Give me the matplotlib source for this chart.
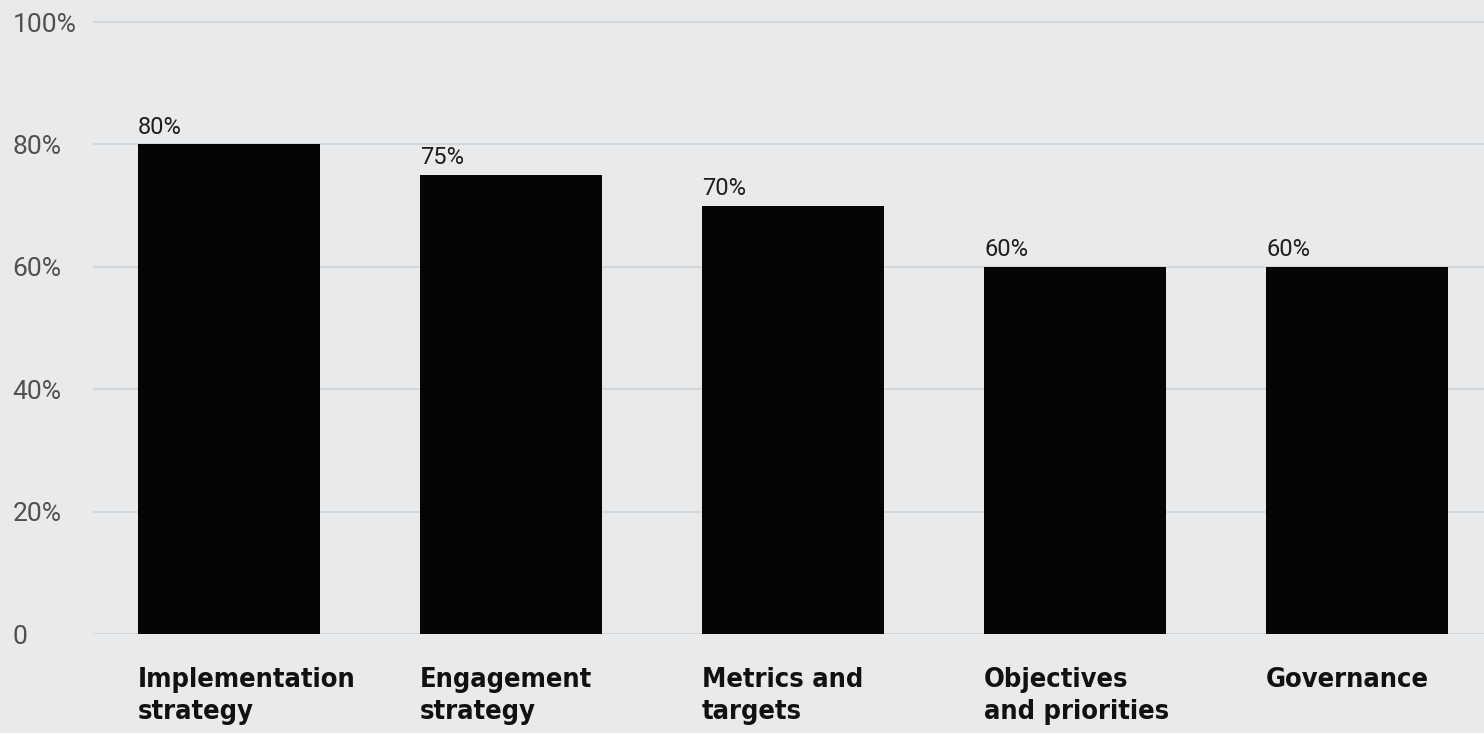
import matplotlib
matplotlib.use('Agg')
import matplotlib.pyplot as plt

categories = ['Implementation\nstrategy', 'Engagement\nstrategy', 'Metrics and\ntargets',
              'Objectives\nand priorities', 'Governance']
shares = [80, 75, 70, 60, 60]
tick_values = [0, 20, 40, 60, 80, 100]
tick_labels = ['0', '20%', '40%', '60%', '80%', '100%']

bg = '#e8eaec'

fig = plt.figure(figsize=(14.84, 7.33), dpi=100, facecolor=bg)
ax = fig.add_axes([93 / 1484, 99 / 733, 1391 / 1484, 634 / 733], facecolor=bg)

x = range(len(categories))
width = 0.645
bars = ax.bar(x, shares, width=width, color='#050505', zorder=3)

# value labels sit on top of each bar, flush with its left edge
for bar, v in zip(bars, shares):
    ax.annotate(f'{v}%', (bar.get_x(), v), xytext=(0, 4), textcoords='offset points',
                ha='left', va='bottom', fontsize=17, color='#1e1e1e', family='Roboto',
                fontstretch='condensed')

ax.set_xlim(-0.482, 4.45)
ax.set_ylim(0, 103.6)
ax.set_yticks(tick_values, tick_labels)
ax.yaxis.grid(True, color='#d4d7da', linewidth=1.5, zorder=0)
ax.tick_params(axis='y', length=0, pad=58)
for lbl in ax.get_yticklabels():
    lbl.set_horizontalalignment('left')
    lbl.set_fontsize(19)
    lbl.set_color('#505050')
    lbl.set_family('Roboto')

# category names below the baseline, left-aligned with the bars
ax.set_xticks([])
for i, name in enumerate(categories):
    ax.annotate(name, (i - width / 2, 0), xytext=(0, -24), textcoords='offset points',
                ha='left', va='top', fontsize=19.5, fontweight='bold', color='#111111',
                family='DejaVu Sans', fontstretch='condensed', linespacing=1.28,
                annotation_clip=False)

for s in ax.spines.values():
    s.set_visible(False)

plt.savefig('out.png', dpi=100, facecolor=bg)
plt.close()
